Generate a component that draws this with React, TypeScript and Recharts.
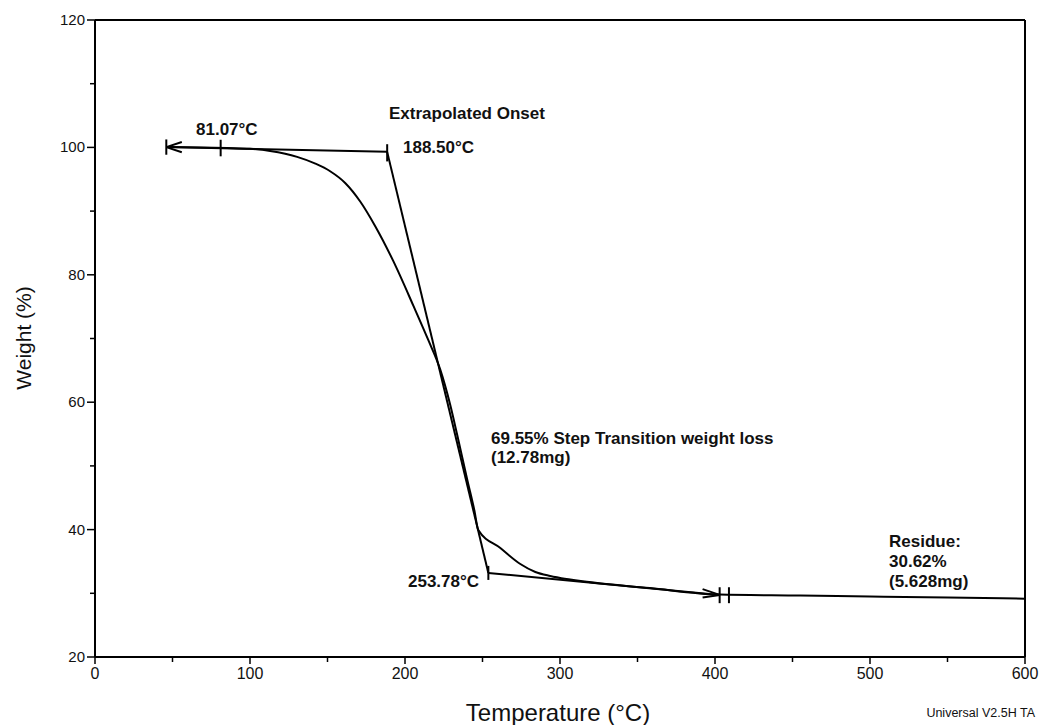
import { Line, LineChart, ReferenceLine, XAxis, YAxis } from "recharts";

// TGA curve
const temperature = [
  46.5, 67.8, 85.2, 100, 113, 122.7, 130.4, 142.2, 151.7, 161.4, 171.1, 180.8, 192.4, 205.3, 215, 222.7,
  229.2, 233.7, 240.2, 244.7, 247.3, 261.5, 274.4, 284.1, 293.7, 306.6, 358, 403, 455, 500, 550, 600,
];
const weight = [
  100.05, 100.0, 99.9, 99.78, 99.45, 99.01, 98.51, 97.45, 96.26, 94.42, 91.51, 87.63, 82.18, 75.2, 69.77, 65.15,
  59.56, 54.85, 47.8, 43.08, 39.94, 37.11, 34.6, 33.35, 32.72, 32.15, 30.83, 29.8, 29.65, 29.5, 29.35, 29.15,
];

const xTicks = [0, 50, 100, 150, 200, 250, 300, 350, 400, 450, 500, 550, 600];
const yTicks = [20, 30, 40, 50, 60, 70, 80, 90, 100, 110, 120];

// analysis marks
const onsetStart = 46;
const onsetMark = 81.07;
const onsetTemp = 188.5;
const endTemp = 253.78;
const residueMarks = [403, 409];
const baselineW = [100.05, 99.3];
const endW = [33.2, 29.75];

const data = temperature.map((t, i) => ({ t, w: weight[i] }));

const FONT = "'Liberation Sans', Arial, Helvetica, sans-serif";
const NARROW = "'Liberation Sans Narrow', 'Liberation Sans', Arial, sans-serif";

function XTick(props: any) {
  const { x, y, payload } = props;
  const major = payload.value % 100 === 0;
  return (
    <g>
      <line x1={x} x2={x} y1={y} y2={y + (major ? 7 : 5)} stroke="#000" strokeWidth={1.5} />
      {major && (
        <text x={x} y={y + 22} textAnchor="middle" fontSize={16} fontFamily={NARROW} fill="#111">
          {payload.value}
        </text>
      )}
    </g>
  );
}

function YTick(props: any) {
  const { x, y, payload } = props;
  const major = payload.value % 20 === 0;
  return (
    <g>
      <line x1={x - (major ? 8 : 5)} x2={x} y1={y} y2={y} stroke="#000" strokeWidth={1.5} />
      {major && (
        <text x={x - 10} y={y + 5} textAnchor="end" fontSize={15} fontFamily={FONT} fill="#111">
          {payload.value}
        </text>
      )}
    </g>
  );
}

const seg = (x1: number, y1: number, x2: number, y2: number, k: string) => (
  <ReferenceLine
    key={k}
    segment={[
      { x: x1, y: y1 },
      { x: x2, y: y2 },
    ]}
    stroke="#000"
    strokeWidth={2}
    ifOverflow="visible"
  />
);

export default function App() {
  const bold = { fontFamily: FONT, fontWeight: 700, fontSize: 17, fill: "#111" };
  return (
    <div style={{ position: "absolute", left: 0, top: 0, background: "#fff" }}>
      <LineChart width={1042} height={725} data={data} margin={{ top: 20, right: 17, left: 0, bottom: 0 }}>
        <XAxis
          dataKey="t"
          type="number"
          domain={[0, 600]}
          ticks={xTicks}
          interval={0}
          height={68}
          tickSize={0}
          tickMargin={0}
          tick={<XTick />}
          axisLine={{ stroke: "#000", strokeWidth: 2 }}
        />
        <YAxis
          type="number"
          domain={[20, 120]}
          ticks={yTicks}
          interval={0}
          width={95}
          tickSize={0}
          tickMargin={0}
          tick={<YTick />}
          axisLine={{ stroke: "#000", strokeWidth: 2 }}
        />
        <ReferenceLine y={120} stroke="#000" strokeWidth={2} ifOverflow="visible" />
        <ReferenceLine x={600} stroke="#000" strokeWidth={2} ifOverflow="visible" />

        {/* baseline tangent with left arrow */}
        {seg(onsetStart, baselineW[0], onsetTemp, baselineW[1], "b")}
        {seg(onsetStart, baselineW[0], onsetStart + 10, baselineW[0] + 0.8, "a1")}
        {seg(onsetStart, baselineW[0], onsetStart + 10, baselineW[0] - 0.8, "a2")}
        {seg(onsetStart, baselineW[0] + 1.2, onsetStart, baselineW[0] - 1.2, "a3")}
        {seg(onsetMark, 101.2, onsetMark, 98.6, "m1")}
        {seg(onsetTemp, 100.5, onsetTemp, 97.8, "m2")}
        {/* steep tangent */}
        {seg(onsetTemp, baselineW[1], endTemp, endW[0], "s")}
        {seg(endTemp, 34.3, endTemp, 32.1, "m3")}
        {/* residue tangent with right arrow */}
        {seg(endTemp, endW[0], residueMarks[0], endW[1], "r")}
        {seg(residueMarks[0] - 11, endW[1] + 0.9, residueMarks[0], endW[1], "r1")}
        {seg(residueMarks[0] - 11, endW[1] - 0.4, residueMarks[0], endW[1], "r2")}
        {seg(residueMarks[0], endW[1] + 1.2, residueMarks[0], endW[1] - 1.3, "m4")}
        {seg(residueMarks[1], endW[1] + 1.2, residueMarks[1], endW[1] - 1.3, "m5")}

        <Line
          type="monotone"
          dataKey="w"
          stroke="#000"
          strokeWidth={2}
          dot={false}
          isAnimationActive={false}
        />

        <text x={389} y={119} {...bold}>Extrapolated Onset</text>
        <text x={196} y={135} {...bold}>81.07°C</text>
        <text x={403} y={153} {...bold}>188.50°C</text>
        <text x={491} y={444} {...bold}>69.55% Step Transition weight loss</text>
        <text x={491} y={463} {...bold}>(12.78mg)</text>
        <text x={408} y={587} {...bold}>253.78°C</text>
        <text x={889} y={547} {...bold}>Residue:</text>
        <text x={889} y={567} {...bold}>30.62%</text>
        <text x={889} y={587} {...bold}>(5.628mg)</text>

        <text x={558} y={721} textAnchor="middle" fontSize={24} fontFamily={NARROW} fill="#111">
          Temperature (°C)
        </text>
        <text
          x={0}
          y={0}
          transform="translate(31,338) rotate(-90)"
          textAnchor="middle"
          fontSize={21}
          fontFamily={FONT}
          fill="#111"
        >
          Weight (%)
        </text>
        <text x={1035} y={717} textAnchor="end" fontSize={12.5} fontFamily={NARROW} fill="#111">
          Universal V2.5H TA
        </text>
      </LineChart>
    </div>
  );
}
